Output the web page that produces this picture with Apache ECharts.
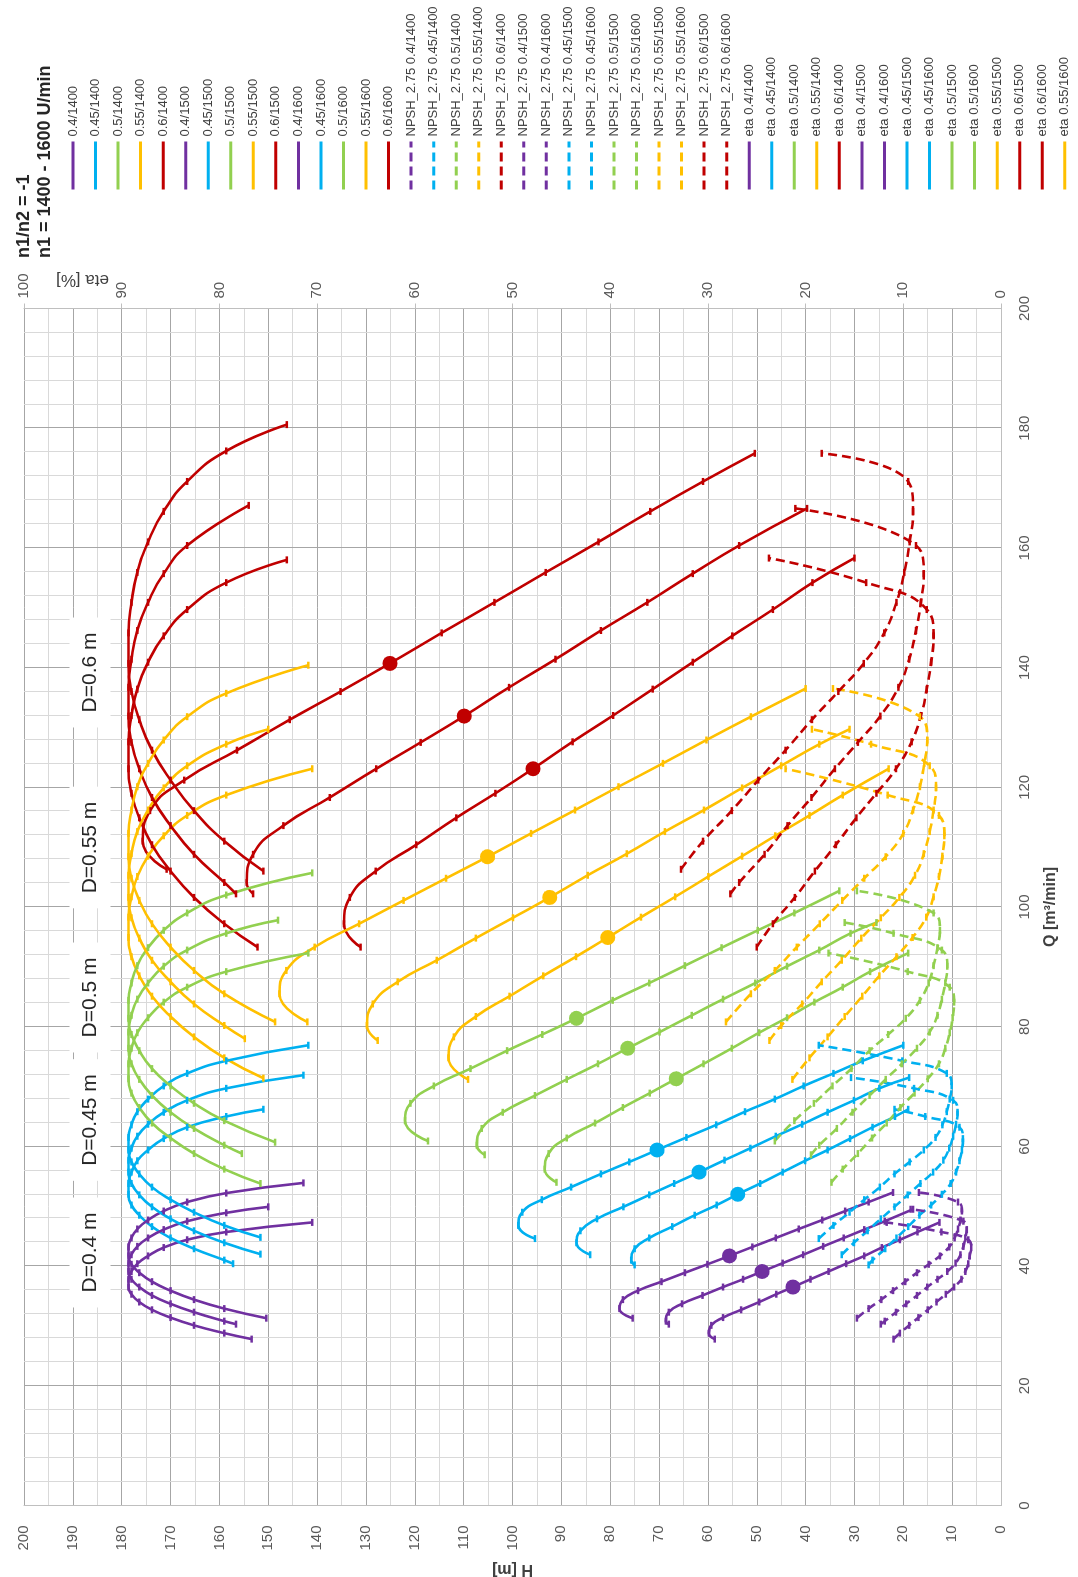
<!DOCTYPE html>
<html><head><meta charset="utf-8">
<script src="https://cdn.jsdelivr.net/npm/echarts@6/dist/echarts.min.js"></script>
<style>
html,body{margin:0;padding:0;background:#fff;width:1078px;height:1577px;overflow:hidden;}
#chart{position:absolute;left:0;top:0;width:1577px;height:1078px;transform-origin:0 0;transform:translate(0,1577px) rotate(-90deg);}
</style></head><body><div id="chart"></div>
<script>
// ---- Head curves H(Q) [Q m3/min, H m] ----
const H_040_1600=[[31.3,75.4],[32.9,78.1],[34.4,77.4],[35.9,74.3],[37.4,69.5],[38.9,64.7],[40.3,60.1],[41.7,55.6],[43.2,50.9],[44.7,46.1],[46.2,41.4],[47.7,36.6],[49.2,31.9],[50.7,27.1],[52.3,22.1]];
const H_040_1500=[[30.3,68.0],[30.8,68.6],[32.3,68.0],[33.7,65.3],[35.1,61.1],[36.5,56.9],[37.8,52.8],[39.1,48.9],[40.5,44.7],[41.9,40.5],[43.3,36.4],[44.7,32.2],[46.1,28.0],[47.5,23.8],[49.5,18.0]];
const H_040_1400=[[27.8,58.6],[28.8,59.8],[30.1,59.3],[31.4,56.9],[32.7,53.2],[34.0,49.5],[35.3,46.0],[36.5,42.6],[37.8,39.0],[39.1,35.3],[40.4,31.7],[41.7,28.0],[43.1,24.4],[44.4,20.7],[45.7,17.1],[47.3,12.6]];
const H_045_1600=[[44.6,95.4],[46.8,98.8],[49.0,98.0],[51.1,94.0],[53.2,88.0],[55.4,81.9],[57.4,76.1],[59.4,70.4],[61.5,64.4],[63.6,58.3],[65.8,52.4],[67.9,46.3],[70.1,40.4],[72.2,34.3],[74.3,28.3],[76.9,20.0]];
const H_045_1500=[[41.9,84.1],[43.9,86.9],[45.9,86.1],[47.9,82.7],[49.9,77.3],[51.9,72.0],[53.8,66.9],[55.7,61.8],[57.7,56.6],[59.7,51.3],[61.7,46.1],[63.7,40.7],[65.7,35.5],[67.7,30.1],[69.7,24.9],[71.5,18.8]];
const H_045_1400=[[40.2,75.0],[41.0,75.7],[42.9,75.0],[44.7,72.0],[46.6,67.3],[48.5,62.7],[50.2,58.2],[52.0,53.9],[53.8,49.3],[55.7,44.7],[57.6,40.1],[59.4,35.5],[61.3,30.9],[63.2,26.3],[65.0,21.7],[66.2,19.0]];
const H_050_1600=[[60.9,117.3],[64.3,122.0],[67.2,120.9],[70.1,116.1],[73.0,108.6],[76.0,101.1],[78.7,93.9],[81.4,86.9],[84.4,79.5],[87.3,72.0],[90.2,64.7],[93.2,57.2],[96.1,49.8],[99.0,42.3],[102.7,33.1]];
const H_050_1500=[[58.6,105.7],[60.2,107.3],[63.0,106.3],[65.7,102.0],[68.5,95.4],[71.2,88.9],[73.8,82.5],[76.4,76.4],[79.1,69.9],[81.9,63.3],[84.6,56.9],[87.3,50.3],[90.1,43.8],[92.8,37.2],[95.6,30.8],[97.4,25.5]];
const H_050_1400=[[54.0,91.0],[56.2,93.4],[58.8,92.6],[61.4,88.9],[63.9,83.1],[66.5,77.4],[68.9,71.9],[71.3,66.5],[73.8,60.9],[76.4,55.1],[79.0,49.5],[81.5,43.8],[84.1,38.2],[86.6,32.4],[89.2,26.8],[92.3,19.0]];
const H_055_1600=[[80.8,142.0],[85.5,147.7],[89.4,146.3],[93.3,140.5],[97.2,131.4],[101.1,122.3],[104.8,113.6],[108.4,105.1],[112.3,96.2],[116.2,87.2],[120.1,78.3],[124.0,69.2],[127.9,60.3],[131.8,51.2],[136.5,40.0]];
const H_055_1500=[[77.7,127.6],[80.2,129.8],[83.8,128.6],[87.5,123.5],[91.1,115.5],[94.8,107.5],[98.2,99.9],[101.6,92.4],[105.3,84.6],[108.9,76.6],[112.6,68.8],[116.2,60.8],[119.9,53.0],[123.6,45.0],[127.2,37.2],[129.7,31.0]];
const H_055_1400=[[71.2,109.1],[74.8,113.1],[78.3,112.0],[81.7,107.5],[85.1,100.6],[88.5,93.7],[91.7,87.0],[94.9,80.5],[98.3,73.7],[101.7,66.7],[105.1,59.9],[108.5,53.0],[111.9,46.2],[115.3,39.2],[118.7,32.4],[123.1,23.0]];
const H_060_1600=[[106.3,170.8],[111.0,175.7],[116.1,174.2],[121.2,167.2],[126.2,156.4],[131.3,145.6],[136.0,135.2],[140.7,125.1],[145.8,114.5],[150.9,103.7],[155.9,93.2],[161.0,82.4],[166.1,71.8],[171.1,61.0],[175.8,50.4]];
const H_060_1500=[[102.2,153.1],[104.1,154.4],[108.8,153.1],[113.6,146.9],[118.3,137.4],[123.1,127.9],[127.5,118.8],[131.9,109.9],[136.7,100.7],[141.4,91.2],[146.2,81.9],[150.9,72.4],[155.7,63.1],[160.4,53.6],[166.6,39.7]];
const H_060_1400=[[93.3,131.1],[97.2,134.5],[101.6,133.3],[106.0,128.0],[110.4,119.7],[114.9,111.5],[119.0,103.5],[123.1,95.8],[127.6,87.7],[132.0,79.4],[136.4,71.3],[140.9,63.1],[145.3,55.0],[149.7,46.7],[154.2,38.6],[158.3,30.0]];

// ---- NPSH_2.75 curves [Q, NPSH m] ----
const N_040_1600=[[31.3,29.5],[32.9,27.1],[34.4,24.5],[35.9,22.1],[37.4,19.6],[38.9,17.2],[40.3,14.8],[41.7,12.5],[43.2,10.6],[44.7,9.5],[46.2,8.8],[47.7,8.3],[49.2,8.0],[50.7,8.8],[52.3,16.8]];
const N_040_1500=[[30.3,24.6],[30.8,23.8],[32.3,21.5],[33.7,19.4],[35.1,17.2],[36.5,15.1],[37.8,13.0],[39.1,11.0],[40.5,9.3],[41.9,8.3],[43.3,7.7],[44.7,7.3],[46.1,7.0],[47.5,7.7],[49.5,18.5]];
const N_040_1400=[[27.8,22.0],[28.8,20.7],[30.1,18.8],[31.4,16.9],[32.7,15.0],[34.0,13.2],[35.3,11.3],[36.5,9.6],[37.8,8.1],[39.1,7.3],[40.4,6.7],[41.7,6.4],[43.1,6.1],[44.4,6.7],[45.7,12.2],[47.3,23.4]];
const N_045_1600=[[44.6,37.3],[46.8,34.3],[49.0,31.0],[51.1,28.0],[53.2,24.8],[55.4,21.8],[57.4,18.7],[59.4,15.8],[61.5,13.4],[63.6,12.0],[65.8,11.1],[67.9,10.5],[70.1,10.1],[72.2,11.1],[74.3,20.2],[76.9,37.3]];
const N_045_1500=[[41.9,32.6],[43.9,30.1],[45.9,27.3],[47.9,24.6],[49.9,21.8],[51.9,19.1],[53.8,16.5],[55.7,13.9],[57.7,11.8],[59.7,10.6],[61.7,9.8],[63.7,9.2],[65.7,8.9],[67.7,9.8],[69.7,17.8],[71.5,30.7]];
const N_045_1400=[[40.2,27.1],[41.0,26.3],[42.9,23.7],[44.7,21.4],[46.6,19.0],[48.5,16.7],[50.2,14.3],[52.0,12.1],[53.8,10.3],[55.7,9.2],[57.6,8.5],[59.4,8.0],[61.3,7.8],[63.2,8.5],[65.0,15.5],[66.2,21.8]];
const N_050_1600=[[60.9,46.3],[64.3,42.3],[67.2,38.3],[70.1,34.5],[73.0,30.6],[76.0,26.9],[78.7,23.1],[81.4,19.5],[84.4,16.6],[87.3,14.8],[90.2,13.8],[93.2,13.0],[96.1,12.5],[99.0,13.8],[102.7,29.5]];
const N_050_1500=[[58.6,38.9],[60.2,37.2],[63.0,33.6],[65.7,30.4],[68.5,26.9],[71.2,23.6],[73.8,20.3],[76.4,17.2],[79.1,14.6],[81.9,13.0],[84.6,12.1],[87.3,11.4],[90.1,11.0],[92.8,12.1],[95.6,22.0],[97.4,32.0]];
const N_050_1400=[[54.0,34.7],[56.2,32.4],[58.8,29.3],[61.4,26.4],[63.9,23.4],[66.5,20.6],[68.9,17.7],[71.3,15.0],[73.8,12.7],[76.4,11.4],[79.0,10.5],[81.5,9.9],[84.1,9.6],[86.6,10.5],[89.2,19.1],[92.3,35.3]];
const N_055_1600=[[80.8,56.3],[85.5,51.2],[89.4,46.3],[93.3,41.8],[97.2,37.1],[101.1,32.5],[104.8,28.0],[108.4,23.6],[112.3,20.0],[116.2,18.0],[120.1,16.6],[124.0,15.7],[127.9,15.1],[131.8,16.6],[136.5,34.4]];
const N_055_1500=[[77.7,47.4],[80.2,45.0],[83.8,40.7],[87.5,36.7],[91.1,32.6],[94.8,28.6],[98.2,24.6],[101.6,20.8],[105.3,17.6],[108.9,15.8],[112.6,14.6],[116.2,13.8],[119.9,13.3],[123.6,14.6],[127.2,26.6],[129.7,38.7]];
const N_055_1400=[[71.2,42.7],[74.8,39.2],[78.3,35.5],[81.7,32.0],[85.1,28.4],[88.5,24.9],[91.7,21.4],[94.9,18.1],[98.3,15.3],[101.7,13.8],[105.1,12.7],[108.5,12.0],[111.9,11.6],[115.3,12.7],[118.7,23.2],[123.1,44.1]];
const N_060_1600=[[106.3,65.5],[111.0,61.0],[116.1,55.1],[121.2,49.7],[126.2,44.1],[131.3,38.7],[136.0,33.3],[140.7,28.1],[145.8,23.9],[150.9,21.4],[155.9,19.8],[161.0,18.7],[166.1,18.0],[171.1,19.0],[175.8,36.7]];
const N_060_1500=[[102.2,55.4],[104.1,53.6],[108.8,48.4],[113.6,43.7],[118.3,38.8],[123.1,34.0],[127.5,29.3],[131.9,24.7],[136.7,21.0],[141.4,18.8],[146.2,17.4],[150.9,16.4],[155.7,15.8],[160.4,17.4],[166.6,42.1]];
const N_060_1400=[[93.3,50.0],[97.2,46.7],[101.6,42.2],[106.0,38.1],[110.4,33.8],[114.9,29.6],[119.0,25.5],[123.1,21.5],[127.6,18.3],[132.0,16.4],[136.4,15.2],[140.9,14.3],[145.3,13.8],[149.7,15.2],[154.2,27.6],[158.3,47.5]];

// ---- Efficiency curves [Q, eta %] ----
const E_040_1600=[[31.3,75.2],[32.9,79.5],[34.4,82.6],[35.9,85.0],[37.4,86.9],[38.9,88.2],[40.3,89.0],[41.7,89.3],[43.2,89.3],[44.7,89.0],[46.2,88.4],[47.7,87.3],[49.2,85.7],[50.7,83.3],[52.2,79.3],[53.9,71.4]];
const E_040_1500=[[30.3,78.3],[30.8,79.5],[32.3,82.6],[33.7,85.0],[35.1,86.9],[36.5,88.2],[37.8,89.0],[39.1,89.3],[40.5,89.3],[41.9,89.0],[43.3,88.4],[44.7,87.3],[46.1,85.7],[47.5,83.3],[48.9,79.3],[49.9,75.0]];
const E_040_1400=[[27.8,76.7],[28.8,79.5],[30.1,82.6],[31.4,85.0],[32.7,86.9],[34.0,88.2],[35.3,89.0],[36.5,89.3],[37.8,89.3],[39.1,89.0],[40.4,88.4],[41.7,87.3],[43.1,85.7],[44.4,83.3],[45.7,79.3],[47.3,70.5]];
const E_045_1600=[[44.8,75.8],[46.8,79.5],[49.0,82.6],[51.1,85.0],[53.2,86.9],[55.4,88.2],[57.4,89.0],[59.4,89.3],[61.5,89.3],[63.6,89.0],[65.8,88.4],[67.9,87.3],[70.1,85.7],[72.2,83.3],[74.3,79.3],[76.9,70.9]];
const E_045_1500=[[42.0,75.8],[43.9,79.5],[45.9,82.6],[47.9,85.0],[49.9,86.9],[51.9,88.2],[53.8,89.0],[55.7,89.3],[57.7,89.3],[59.7,89.0],[61.7,88.4],[63.7,87.3],[65.7,85.7],[67.7,83.3],[69.7,79.3],[71.9,71.4]];
const E_045_1400=[[40.4,78.6],[41.0,79.5],[42.9,82.6],[44.7,85.0],[46.6,86.9],[48.5,88.2],[50.2,89.0],[52.0,89.3],[53.8,89.3],[55.7,89.0],[57.6,88.4],[59.4,87.3],[61.3,85.7],[63.2,83.3],[65.0,79.3],[66.2,75.5]];
const E_050_1600=[[60.7,74.3],[64.3,79.5],[67.2,82.6],[70.1,85.0],[73.0,86.9],[76.0,88.2],[78.7,89.0],[81.4,89.3],[84.4,89.3],[87.3,89.0],[90.2,88.4],[93.2,87.3],[96.1,85.7],[99.0,83.3],[102.0,79.3],[105.7,70.5]];
const E_050_1500=[[58.8,77.7],[60.2,79.5],[63.0,82.6],[65.7,85.0],[68.5,86.9],[71.2,88.2],[73.8,89.0],[76.4,89.3],[79.1,89.3],[81.9,89.0],[84.6,88.4],[87.3,87.3],[90.1,85.7],[92.8,83.3],[95.6,79.3],[97.8,74.0]];
const E_050_1400=[[53.8,75.8],[56.2,79.5],[58.8,82.6],[61.4,85.0],[63.9,86.9],[66.5,88.2],[68.9,89.0],[71.3,89.3],[73.8,89.3],[76.4,89.0],[79.0,88.4],[81.5,87.3],[84.1,85.7],[86.6,83.3],[89.2,79.3],[92.3,70.9]];
const E_055_1600=[[80.8,74.3],[85.5,79.5],[89.4,82.6],[93.3,85.0],[97.2,86.9],[101.1,88.2],[104.8,89.0],[108.4,89.3],[112.3,89.3],[116.2,89.0],[120.1,88.4],[124.0,87.3],[127.9,85.7],[131.8,83.3],[135.7,79.3],[140.4,70.9]];
const E_055_1500=[[78.0,77.4],[80.2,79.5],[83.8,82.6],[87.5,85.0],[91.1,86.9],[94.8,88.2],[98.2,89.0],[101.6,89.3],[105.3,89.3],[108.9,89.0],[112.6,88.4],[116.2,87.3],[119.9,85.7],[123.6,83.3],[127.2,79.3],[129.7,75.0]];
const E_055_1400=[[71.4,75.5],[74.8,79.5],[78.3,82.6],[81.7,85.0],[85.1,86.9],[88.5,88.2],[91.7,89.0],[94.9,89.3],[98.3,89.3],[101.7,89.0],[105.1,88.4],[108.5,87.3],[111.9,85.7],[115.3,83.3],[118.7,79.3],[123.1,70.5]];
const E_060_1600=[[106.0,75.5],[111.0,79.5],[116.1,82.6],[121.2,85.0],[126.2,86.9],[131.3,88.2],[136.0,89.0],[140.7,89.3],[145.8,89.3],[150.9,89.0],[155.9,88.4],[161.0,87.3],[166.1,85.7],[171.1,83.3],[176.2,79.3],[180.6,73.1]];
const E_060_1500=[[102.2,78.3],[104.1,79.5],[108.8,82.6],[113.6,85.0],[118.3,86.9],[123.1,88.2],[127.5,89.0],[131.9,89.3],[136.7,89.3],[141.4,89.0],[146.2,88.4],[150.9,87.3],[155.7,85.7],[160.4,83.3],[167.1,77.0]];
const E_060_1400=[[93.3,76.1],[97.2,79.5],[101.6,82.6],[106.0,85.0],[110.4,86.9],[114.9,88.2],[119.0,89.0],[123.1,89.3],[127.6,89.3],[132.0,89.0],[136.4,88.4],[140.9,87.3],[145.3,85.7],[149.7,83.3],[154.2,79.3],[158.0,73.1]];

// index of the best-efficiency point (large dot) in each head array
const BEP_INDEX = 7;
const COLOR = {'0.4':'#7030A0','0.45':'#00B0F0','0.5':'#92D050','0.55':'#FFC000','0.6':'#C00000'};

// legend order
const HEAD = [
  ['0.4/1400','0.4',H_040_1400],['0.45/1400','0.45',H_045_1400],['0.5/1400','0.5',H_050_1400],['0.55/1400','0.55',H_055_1400],['0.6/1400','0.6',H_060_1400],
  ['0.4/1500','0.4',H_040_1500],['0.45/1500','0.45',H_045_1500],['0.5/1500','0.5',H_050_1500],['0.55/1500','0.55',H_055_1500],['0.6/1500','0.6',H_060_1500],
  ['0.4/1600','0.4',H_040_1600],['0.45/1600','0.45',H_045_1600],['0.5/1600','0.5',H_050_1600],['0.55/1600','0.55',H_055_1600],['0.6/1600','0.6',H_060_1600]];
const NPSH = [
  ['NPSH_2.75 0.4/1400','0.4',N_040_1400],['NPSH_2.75 0.45/1400','0.45',N_045_1400],['NPSH_2.75 0.5/1400','0.5',N_050_1400],['NPSH_2.75 0.55/1400','0.55',N_055_1400],['NPSH_2.75 0.6/1400','0.6',N_060_1400],
  ['NPSH_2.75 0.4/1500','0.4',N_040_1500],['NPSH_2.75 0.4/1600','0.4',N_040_1600],['NPSH_2.75 0.45/1500','0.45',N_045_1500],['NPSH_2.75 0.45/1600','0.45',N_045_1600],
  ['NPSH_2.75 0.5/1500','0.5',N_050_1500],['NPSH_2.75 0.5/1600','0.5',N_050_1600],['NPSH_2.75 0.55/1500','0.55',N_055_1500],['NPSH_2.75 0.55/1600','0.55',N_055_1600],
  ['NPSH_2.75 0.6/1500','0.6',N_060_1500],['NPSH_2.75 0.6/1600','0.6',N_060_1600]];
const ETA = [
  ['eta 0.4/1400','0.4',E_040_1400],['eta 0.45/1400','0.45',E_045_1400],['eta 0.5/1400','0.5',E_050_1400],['eta 0.55/1400','0.55',E_055_1400],['eta 0.6/1400','0.6',E_060_1400],
  ['eta 0.4/1500','0.4',E_040_1500],['eta 0.4/1600','0.4',E_040_1600],['eta 0.45/1500','0.45',E_045_1500],['eta 0.45/1600','0.45',E_045_1600],
  ['eta 0.5/1500','0.5',E_050_1500],['eta 0.5/1600','0.5',E_050_1600],['eta 0.55/1500','0.55',E_055_1500],['eta 0.6/1500','0.6',E_060_1500],
  ['eta 0.6/1600','0.6',E_060_1600],['eta 0.55/1600','0.55',E_055_1600]];
const D_LABELS = [['D=0.4 m',324.5],['D=0.45 m',457],['D=0.5 m',579.5],['D=0.55 m',729.5],['D=0.6 m',904.5]];

const FONT = '"Liberation Sans", Arial, sans-serif';
function mk(entry, kind){
  const [name, d, arr] = entry; const c = COLOR[d];
  const data = kind==='head' ? arr.map((p,i)=> i===BEP_INDEX ? {value:p, symbol:'circle', symbolSize:15} : p) : arr;
  return {name, type:'line', data, yAxisIndex: kind==='eta'?1:0, smooth:0.5,
    symbol:'rect', symbolSize:[7,2.5], showSymbol:true, showAllSymbol:true,
    lineStyle:{color:c, width:2.6, type: kind==='npsh'?[9,5]:'solid'},
    itemStyle:{color:c}, emphasis:{disabled:true}, animation:false};
}
const series = [].concat(HEAD.map(e=>mk(e,'head')), NPSH.map(e=>mk(e,'npsh')), ETA.map(e=>mk(e,'eta')));
const legendNames = [].concat(HEAD, NPSH, ETA).map(e=>e[0]);

const chart = echarts.init(document.getElementById('chart'), null, {renderer:'canvas', width:1577, height:1078});
chart.setOption({
  animation:false,
  textStyle:{fontFamily:FONT},
  title:{text:'n1/n2 = -1\nn1 = 1400 - 1600 U/min', left:1319, top:14, padding:0,
    textStyle:{fontSize:18, fontWeight:'bold', color:'#262626', lineHeight:21, fontFamily:FONT}},
  grid:{left:71.5, right:308.5, top:24, bottom:77, containLabel:false, outerBoundsMode:'none'},
  legend:{orient:'vertical', left:1386, top:66, padding:0, itemWidth:48, itemHeight:14, itemGap:8.54,
    data:legendNames, selectedMode:false, itemStyle:{opacity:0}, lineStyle:{width:3},
    textStyle:{fontSize:13, color:'#404040', fontFamily:FONT, lineHeight:14}},
  xAxis:{type:'value', min:0, max:200, interval:20,
    name:'Q [m³/min]', nameLocation:'middle', nameGap:42,
    nameTextStyle:{fontSize:16, fontWeight:'bold', color:'#404040', fontFamily:FONT},
    axisLine:{show:true, lineStyle:{color:'#BFBFBF'}}, axisTick:{show:false},
    axisLabel:{fontSize:15, color:'#595959', margin:16, fontFamily:FONT},
    splitLine:{show:true, lineStyle:{color:'#A6A6A6', width:1}},
    minorTick:{show:false, splitNumber:5}, minorSplitLine:{show:true, lineStyle:{color:'#D9D9D9', width:1}}},
  yAxis:[
    {type:'value', min:0, max:200, interval:10, position:'left',
     name:'H [m]', nameLocation:'middle', nameGap:55, nameRotate:90,
     nameTextStyle:{fontSize:16, fontWeight:'bold', color:'#404040', fontFamily:FONT},
     axisLine:{show:true, lineStyle:{color:'#BFBFBF'}}, axisTick:{show:false},
     axisLabel:{fontSize:15, color:'#595959', margin:20, fontFamily:FONT},
     splitLine:{show:true, lineStyle:{color:'#A6A6A6', width:1}},
     minorTick:{show:false, splitNumber:2}, minorSplitLine:{show:true, lineStyle:{color:'#D9D9D9', width:1}}},
    {type:'value', min:0, max:100, interval:10, position:'right',
     axisLine:{show:true, lineStyle:{color:'#BFBFBF'}},
     axisTick:{show:true, length:5, lineStyle:{color:'#BFBFBF'}},
     axisLabel:{fontSize:15, color:'#595959', margin:10, fontFamily:FONT},
     splitLine:{show:false}}
  ],
  graphic:[].concat(
    D_LABELS.map(([t,x])=>({type:'text', x:x, y:90, z:50,
      style:{text:t, font:'21px '+FONT, fill:'#262626', align:'center', verticalAlign:'middle',
             backgroundColor:'#fff', padding:[10,15]}})),
    [{type:'text', x:1297, y:82.5, rotation:Math.PI/2, z:50,
      style:{text:'eta [%]', font:'17px '+FONT, fill:'#404040', align:'center', verticalAlign:'middle'}}]
  ),
  series
});
</script></body></html>
